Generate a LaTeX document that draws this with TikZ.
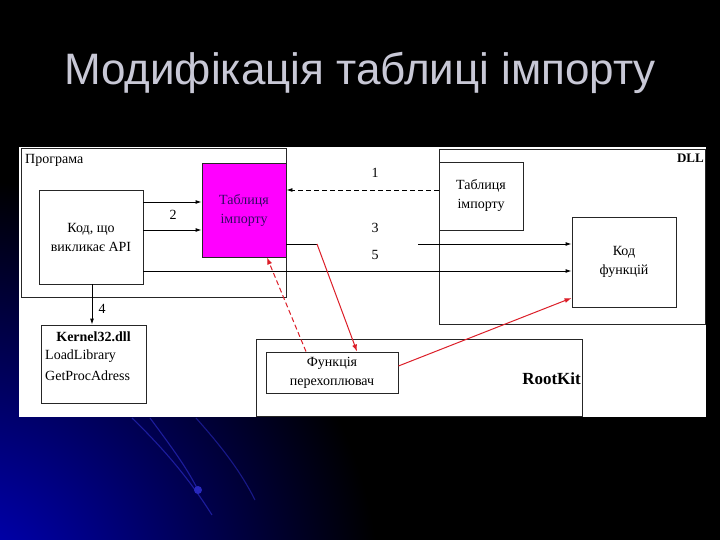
\documentclass[tikz,border=0pt]{standalone}
\usepackage{fontspec}
\setmainfont{Liberation Serif}
\newfontfamily\titlefont{Liberation Sans}
\usetikzlibrary{arrows.meta,calc}
\definecolor{titlegray}{RGB}{200,200,214}
\definecolor{glowblue}{RGB}{0,0,200}
\definecolor{streak}{RGB}{40,40,190}
\definecolor{magentabox}{RGB}{255,0,255}
\definecolor{purpletext}{RGB}{50,10,100}
\definecolor{hookred}{RGB}{220,30,40}
\begin{document}
\begin{tikzpicture}[x=1pt,y=-1pt,
  box/.style={draw=black!85,line width=0.9pt,inner sep=0pt,align=center,
    font=\fontsize{14}{19}\selectfont},
  lbl/.style={inner sep=0pt,font=\fontsize{14}{17}\selectfont},
  arr/.style={line width=0.9pt,-{Latex[length=6pt,width=4pt]}},
  redarr/.style={hookred,line width=1pt,-{Latex[length=7pt,width=5pt]}},
  reddash/.style={hookred,line width=1pt,dashed,dash pattern=on 5pt off 3pt,-{Latex[length=7pt,width=5pt]}}]
\useasboundingbox (0,0) rectangle (720,540);
% background
\fill[black] (0,0) rectangle (720,540);
\begin{scope}
\clip (0,0) rectangle (720,540);
\shade[inner color=glowblue,outer color=black] (-40,600) circle (420);
\draw[streak,line width=1.1pt,opacity=0.7] (132,418) .. controls (165,450) and (190,480) .. (212,515);
\draw[streak,line width=1.1pt,opacity=0.7] (150,418) .. controls (170,445) and (185,465) .. (197,488);
\draw[streak,line width=1.1pt,opacity=0.6] (196,418) .. controls (220,445) and (240,470) .. (255,500);
\fill[streak] (198,490) circle (4);
\end{scope}
% title
\node[anchor=base,inner sep=0pt,text=titlegray,font=\titlefont\fontsize{44}{50}\selectfont] (title) at (360,85) {Модифікація таблиці імпорту};
% white panel
\fill[white] (19,147) rectangle (706,417);
% boxes
\node[box,minimum width=265pt,minimum height=149pt] (prog) at (153.5,222.5) {};
\node[lbl,anchor=north west] (proglbl) at (25,154) {Програма};
\node[box,minimum width=104pt,minimum height=94pt] (kod) at (91,237) {Код, що\\викликає API};
\node[box,fill=magentabox,text=purpletext,minimum width=84pt,minimum height=94pt] (tab) at (244,210) {Таблиця\\імпорту};
\node[box,minimum width=266pt,minimum height=175pt] (dll) at (572,236.5) {};
\node[lbl,anchor=north east,font=\bfseries\fontsize{13}{15}\selectfont] (dlllbl) at (704,154) {DLL};
\node[box,minimum width=84pt,minimum height=68pt] (dlltab) at (481,196) {Таблиця\\імпорту};
\node[box,minimum width=104pt,minimum height=90pt] (func) at (624,262) {Код\\функцій};
\node[box,minimum width=105pt,minimum height=78pt] (kern) at (93.5,364) {};
\node[lbl,font=\bfseries\fontsize{14}{17}\selectfont] (kerntitle) at (93.5,337) {Kernel32.dll};
\node[lbl,anchor=west] (kernload) at (45,356) {LoadLibrary};
\node[lbl,anchor=west] (kernget) at (45,376) {GetProcAdress};
\node[box,minimum width=326pt,minimum height=77pt] (rk) at (419,377.5) {};
\node[lbl,anchor=east,font=\bfseries\fontsize{17}{20}\selectfont] (rklbl) at (581,379) {RootKit};
\node[box,minimum width=132pt,minimum height=41pt] (hook) at (332,372.5) {Функція\\перехоплювач};
% connectors
\draw[arr,dashed,dash pattern=on 5pt off 3pt] ([yshift=6pt]dlltab.west) -- ([yshift=6pt]dlltab.west -| tab.east);
\node[lbl] (n1) at (375,173) {1};
\draw[arr] ([yshift=35pt]kod.east) -- ([yshift=35pt]kod.east -| tab.west);
\draw[arr] ([yshift=7pt]kod.east) -- ([yshift=7pt]kod.east -| tab.west);
\node[lbl] (n2) at (173,215) {2};
\coordinate (c3) at (418,244);
\draw[arr] (c3) -- (c3 -| func.west);
\node[lbl] (n3) at (375,228) {3};
\draw[arr] ([yshift=-34pt]kod.east) -- ([yshift=-34pt]kod.east -| func.west);
\node[lbl] (n5) at (375,255) {5};
\draw[arr] (kod.south -| 92,0) -- (kern.north -| 92,0);
\node[lbl] (n4) at (102,309) {4};
\coordinate (bend) at (317,244);
\draw[line width=0.9pt] ([yshift=-34pt]tab.east) -- (bend);
\draw[redarr] (bend) -- ([xshift=25pt]hook.north);
\draw[reddash] ([xshift=-26pt]hook.north) -- ([xshift=23pt]tab.south);
\draw[redarr] ([yshift=6.5pt]hook.east) -- ([yshift=-36pt]func.west);
\end{tikzpicture}
\end{document}
